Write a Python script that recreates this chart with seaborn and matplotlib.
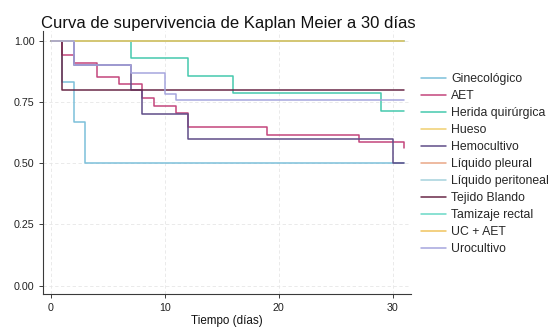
import numpy as np
import pandas as pd
import matplotlib
matplotlib.use("Agg")
import matplotlib.pyplot as plt
import seaborn as sns

# ---- data ----
grupos = ["Ginecológico", "AET", "Herida quirúrgica", "Hueso", "Hemocultivo",
          "Líquido pleural", "Líquido peritoneal", "Tejido Blando",
          "Tamizaje rectal", "UC + AET", "Urocultivo"]

colores = ["#7cc0da", "#c4457c", "#45c9ad", "#f0d070", "#5f4d88",
           "#eaa786", "#a6d2dc", "#6a2848", "#6ad9c6", "#f0c45e", "#a6a6de"]

gine_t = [0, 1, 2, 3, 31]
gine_s = [1.0, 0.833, 0.667, 0.5, 0.5]

aet_t = [0, 1, 2, 4, 6, 8, 9, 11, 12, 19, 27, 31]
aet_s = [1.0, 0.94, 0.91, 0.852, 0.822, 0.765, 0.734, 0.704, 0.646, 0.617, 0.588, 0.56]

herida_t = [0, 7, 12, 16, 29, 31]
herida_s = [1.0, 0.929, 0.857, 0.786, 0.714, 0.714]

hueso_t = [0, 31]
hueso_s = [1.0, 1.0]

hemo_t = [0, 2, 7, 8, 12, 30, 31]
hemo_s = [1.0, 0.9, 0.8, 0.7, 0.6, 0.5, 0.5]

pleural_t = [0, 31]
pleural_s = [1.0, 1.0]

perit_t = [0, 31]
perit_s = [1.0, 1.0]

tejido_t = [0, 1, 31]
tejido_s = [1.0, 0.8, 0.8]

tamiz_t = [0, 31]
tamiz_s = [1.0, 1.0]

ucaet_t = [0, 31]
ucaet_s = [1.0, 1.0]

uro_t = [0, 2, 7, 10, 11, 31]
uro_s = [1.0, 0.9, 0.867, 0.783, 0.757, 0.757]

x_ticks = [0, 10, 20, 30]
y_ticks = [0.00, 0.25, 0.50, 0.75, 1.00]

series_t = [gine_t, aet_t, herida_t, hueso_t, hemo_t, pleural_t, perit_t,
            tejido_t, tamiz_t, ucaet_t, uro_t]
series_s = [gine_s, aet_s, herida_s, hueso_s, hemo_s, pleural_s, perit_s,
            tejido_s, tamiz_s, ucaet_s, uro_s]

rows = []
for g, ts, ss in zip(grupos, series_t, series_s):
    for t, s in zip(ts, ss):
        rows.append({"grupo": g, "tiempo": t, "surv": s})
df = pd.DataFrame(rows)

# ---- style ----
sns.set_theme(style="ticks")
plt.rcParams["font.family"] = ["Liberation Sans", "DejaVu Sans"]

fig = plt.figure(figsize=(5.49, 3.29), dpi=100)
ax = fig.add_axes([0.0792, 0.1073, 0.6694, 0.7988])

sns.lineplot(data=df, x="tiempo", y="surv", hue="grupo", hue_order=grupos,
             palette=dict(zip(grupos, colores)), estimator=None,
             drawstyle="steps-post", linewidth=1.1, ax=ax)

ax.set_xlim(-0.66, 31.6)
ax.set_ylim(-0.0327, 1.04)
ax.set_xticks(x_ticks)
ax.set_yticks(y_ticks)
ax.set_yticklabels([f"{v:.2f}" for v in y_ticks])
ax.grid(True, color="#e6e6e6", linestyle=(0, (4, 3)), linewidth=0.6)
ax.set_axisbelow(True)
sns.despine(ax=ax)
for sp in ("left", "bottom"):
    ax.spines[sp].set_color("#3a3a3a")
    ax.spines[sp].set_linewidth(0.8)
ax.tick_params(axis="both", length=2.9, width=0.7, color="#3a3a3a",
               labelsize=7.7, labelcolor="#222222", pad=3.5)

ax.set_xlabel("Tiempo (días)", fontsize=8.4, color="#111111", labelpad=2)
ax.set_ylabel("")

fig.text(40.7 / 549, 1 - 28 / 329, "Curva de supervivencia de Kaplan Meier a 30 días",
         fontsize=12, color="#111111", ha="left", va="baseline")

sns.move_legend(ax, loc="center left", bbox_to_anchor=(421 / 549, 1 - 164 / 329),
                bbox_transform=fig.transFigure, frameon=False, title=None,
                fontsize=8.8, handlelength=2.05, handletextpad=0.4,
                labelspacing=0.41, borderpad=0, borderaxespad=0)
for line in ax.get_legend().get_lines():
    line.set_linewidth(1.1)

fig.savefig("out.png", dpi=100)
